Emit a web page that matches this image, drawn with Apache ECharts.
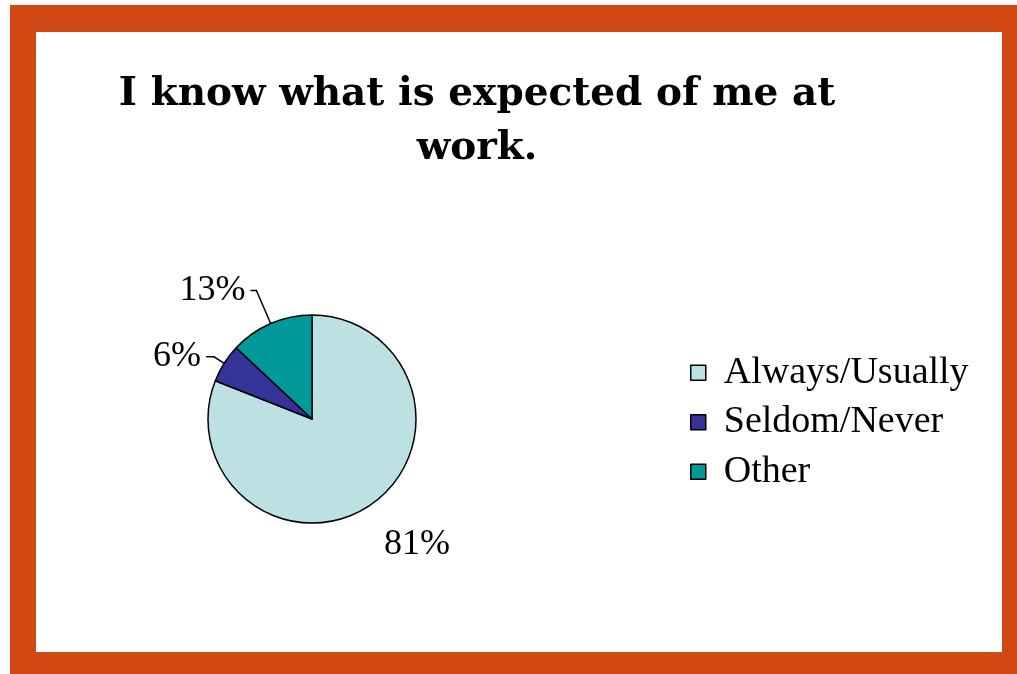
<!DOCTYPE html>
<html><head><meta charset="utf-8">
<script src="https://cdn.jsdelivr.net/npm/echarts@6/dist/echarts.min.js"></script>
<style>html,body{margin:0;padding:0;background:#fff}#c{width:1017px;height:674px}</style>
</head><body><div id="c"></div>
<script>
const titleText = "I know what is expected of me at\nwork.";
const categories = ["Always/Usually", "Seldom/Never", "Other"];
const values = [81, 6, 13];
const colors = ["#BDE0E3", "#35329A", "#009999"];

const serif = "'Liberation Serif', 'DejaVu Serif', serif";
const labelLines = [
  {show: false, length: 40, length2: 0},
  {show: true, length: 12, length2: 8},
  {show: true, length: 36, length2: 6}
];
const chart = echarts.init(document.getElementById('c'), null, {renderer: 'canvas'});
chart.setOption({
  animation: false,
  graphic: {elements: [
    {type: 'rect', z: -10, shape: {x: 10, y: 5, width: 1007, height: 669}, style: {fill: '#D24815'}},
    {type: 'rect', z: -9, shape: {x: 36, y: 32, width: 966, height: 620}, style: {fill: '#ffffff'}}
  ]},
  title: {
    text: titleText, left: 472, top: 63, textAlign: 'center',
    textStyle: {fontFamily: "'DejaVu Serif', serif", fontWeight: 'bold', fontSize: 39, lineHeight: 54, color: '#000'}
  },
  legend: {
    orient: 'vertical', left: 685, top: 348, itemGap: 10, itemWidth: 15, itemHeight: 15,
    icon: 'rect',
    itemStyle: {borderColor: '#000', borderWidth: 1.5},
    textStyle: {fontFamily: serif, fontSize: 38, lineHeight: 39.5, color: '#000', padding: [0, 0, 0, 13]},
    data: categories
  },
  series: [{
    type: 'pie', center: [312, 419], radius: 104, startAngle: 90, clockwise: true,
    itemStyle: {borderColor: '#000', borderWidth: 1.5},
    label: {show: true, position: 'outside', formatter: '{d}%', fontFamily: serif, fontSize: 36, color: '#000'},
    labelLine: {show: true, length: 12, length2: 8, lineStyle: {color: '#000', width: 1.5}},
    labelLayout: function (p) {
      if (p.dataIndex === 0) return {dx: -14, dy: 6};
      return {};
    },
    emphasis: {disabled: true},
    data: categories.map((n, i) => ({name: n, value: values[i], itemStyle: {color: colors[i]}, labelLine: labelLines[i]}))
  }]
});
</script></body></html>
